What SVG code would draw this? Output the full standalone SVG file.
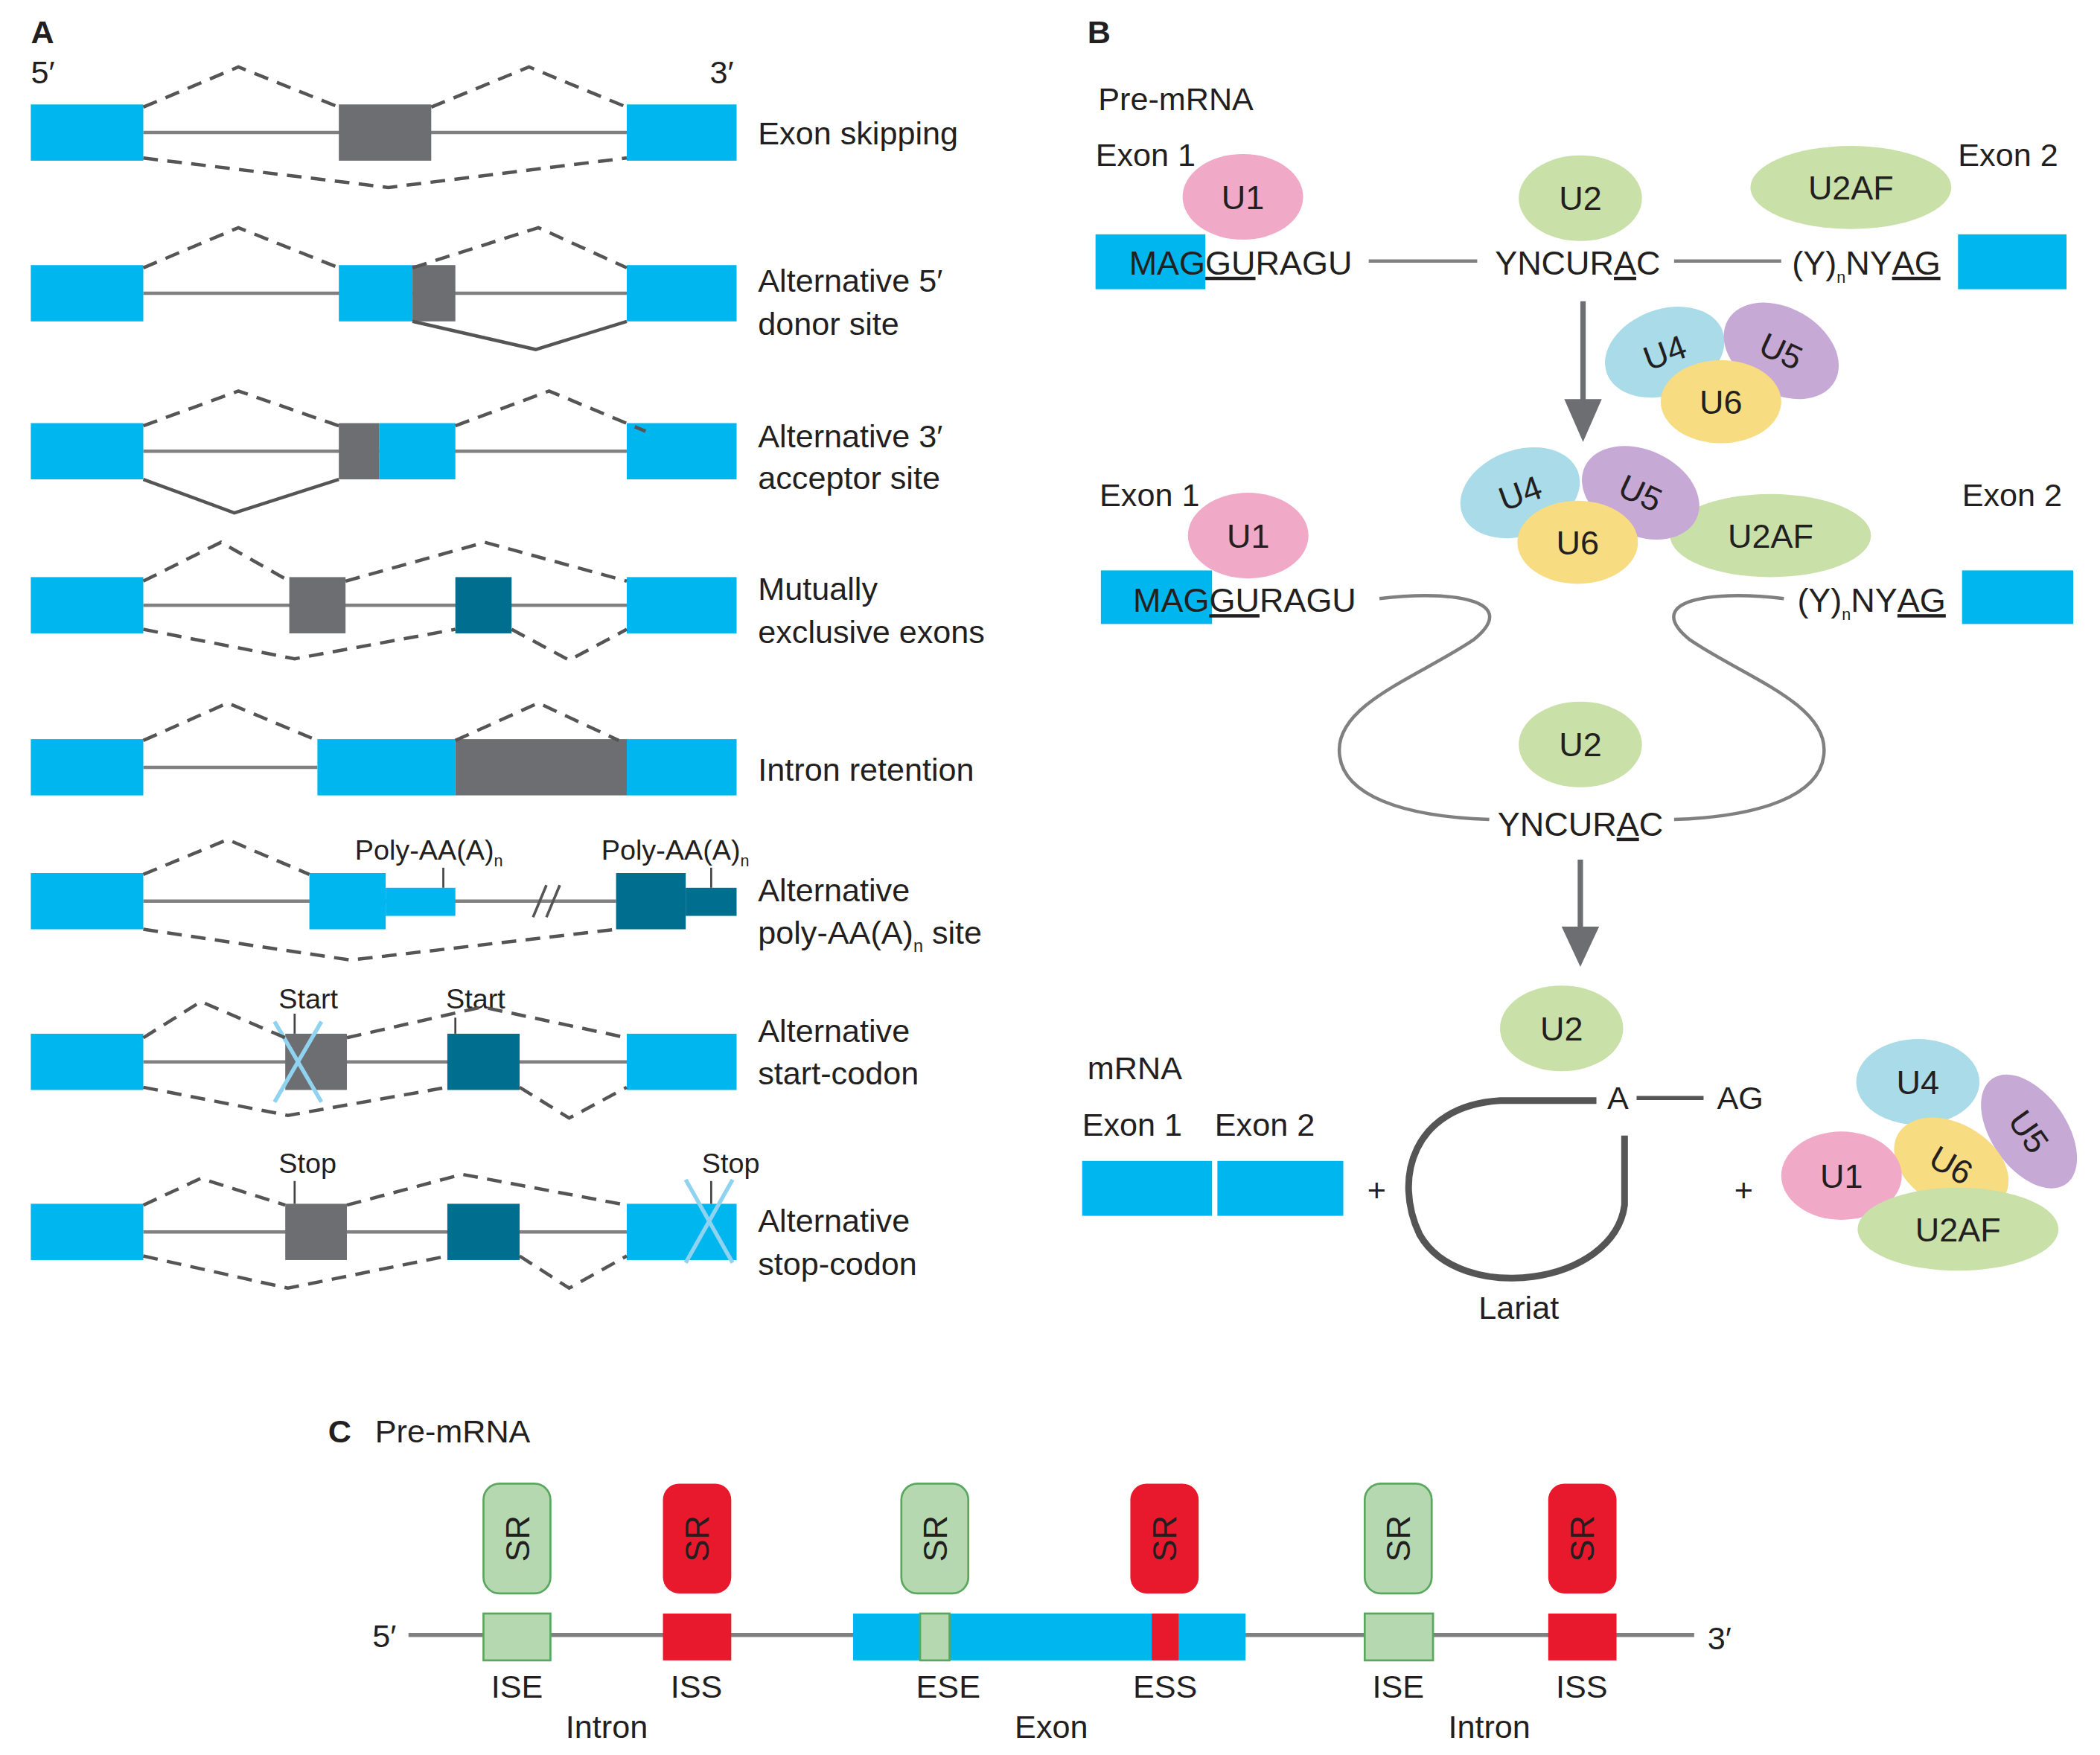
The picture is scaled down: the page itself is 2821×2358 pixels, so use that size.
<svg xmlns="http://www.w3.org/2000/svg" width="2821" height="2358" viewBox="0 0 2821 2358">
<style>
text{font-family:"Liberation Sans",Arial,sans-serif;fill:#231f20}
.t{font-size:24px}.s{font-size:21px}.m{font-size:25px}
.b{font-weight:bold;font-size:24px}
.cy{fill:#00b6ef}.gr{fill:#6d6e71}.tl{fill:#006f8f}
.ln{stroke:#808080;stroke-width:2.5;fill:none}
.ds{stroke:#555;stroke-width:2.5;fill:none;stroke-dasharray:11 7}
.sl{stroke:#555;stroke-width:2.5;fill:none}
.x{stroke:#8fd3f0;stroke-width:3}
.tk{stroke:#444;stroke-width:1.5}
.u1{fill:#f1a9c8}.u2{fill:#c9e1a9}.u4{fill:#a9dbe8}.u5{fill:#c7a9d6}.u6{fill:#f7dc82}
.srg{fill:#b5d8b0;stroke:#5aa860;stroke-width:1.5}.srr{fill:#e8192c}
.c{text-anchor:middle}
</style>
<rect width="2821" height="2358" fill="#fff"/>
<g transform="scale(1.7991)">
<g id="panelA">
<text x="23" y="32" class="b">A</text>
<text x="23" y="62" class="t">5′</text><text x="530" y="62" class="t">3′</text>
<g id="a1">
<line x1="107" y1="99" x2="468" y2="99" class="ln"/>
<rect x="23" y="78" width="84" height="42" class="cy"/><rect x="468" y="78" width="82" height="42" class="cy"/>
<rect x="253" y="78" width="69" height="42" class="gr"/>
<polyline points="107,80 178,50 253,80" class="ds"/><polyline points="322,80 395,50 468,80" class="ds"/>
<polyline points="107,118 290,140 468,118" class="ds"/>
<text x="566" y="108" class="t">Exon skipping</text></g>
<g id="a2">
<line x1="107" y1="219" x2="468" y2="219" class="ln"/>
<rect x="23" y="198" width="84" height="42" class="cy"/><rect x="468" y="198" width="82" height="42" class="cy"/>
<rect x="253" y="198" width="55" height="42" class="cy"/><rect x="308" y="198" width="32" height="42" class="gr"/>
<polyline points="107,200 178,170 253,200" class="ds"/><polyline points="308,200 402,170 468,200" class="ds"/>
<polyline points="308,240 400,261 468,240" class="sl"/>
<text x="566" y="218" class="t">Alternative 5′</text><text x="566" y="250" class="t">donor site</text></g>
<g id="a3">
<line x1="107" y1="337" x2="468" y2="337" class="ln"/>
<rect x="23" y="316" width="84" height="42" class="cy"/><rect x="468" y="316" width="82" height="42" class="cy"/>
<rect x="253" y="316" width="30" height="42" class="gr"/><rect x="283" y="316" width="57" height="42" class="cy"/>
<polyline points="107,318 178,292 253,318" class="ds"/><polyline points="340,318 410,292 482,322" class="ds"/>
<polyline points="107,358 175,383 253,358" class="sl"/>
<text x="566" y="334" class="t">Alternative 3′</text><text x="566" y="365" class="t">acceptor site</text></g>
<g id="a4">
<line x1="107" y1="452" x2="468" y2="452" class="ln"/>
<rect x="23" y="431" width="84" height="42" class="cy"/><rect x="468" y="431" width="82" height="42" class="cy"/>
<rect x="216" y="431" width="42" height="42" class="gr"/><rect x="340" y="431" width="42" height="42" class="tl"/>
<polyline points="107,434 165,405 216,434" class="ds"/><polyline points="258,434 362,405 468,434" class="ds"/>
<polyline points="107,470 220,492 340,470" class="ds"/><polyline points="382,470 425,493 468,470" class="ds"/>
<text x="566" y="448" class="t">Mutually</text><text x="566" y="480" class="t">exclusive exons</text></g>
<g id="a5">
<line x1="107" y1="573" x2="237" y2="573" class="ln"/>
<rect x="23" y="552" width="84" height="42" class="cy"/>
<rect x="237" y="552" width="103" height="42" class="cy"/><rect x="340" y="552" width="128" height="42" class="gr"/><rect x="468" y="552" width="82" height="42" class="cy"/>
<polyline points="107,553 170,525 237,553" class="ds"/><polyline points="340,553 402,525 462,553" class="ds"/>
<text x="566" y="583" class="t">Intron retention</text></g>
<g id="a6">
<line x1="107" y1="673" x2="460" y2="673" class="ln"/>
<line x1="398" y1="685" x2="408" y2="661" stroke="#555" stroke-width="2"/><line x1="408" y1="685" x2="418" y2="661" stroke="#555" stroke-width="2"/>
<rect x="23" y="652" width="84" height="42" class="cy"/>
<rect x="231" y="652" width="57" height="42" class="cy"/><rect x="288" y="663" width="52" height="21" class="cy"/>
<rect x="460" y="652" width="52" height="42" class="tl"/><rect x="512" y="663" width="38" height="21" class="tl"/>
<line x1="331" y1="648" x2="331" y2="663" class="tk"/><line x1="531" y1="648" x2="531" y2="663" class="tk"/>
<text x="265" y="642" class="s">Poly-AA(A)<tspan dy="5" font-size="12">n</tspan></text>
<text x="449" y="642" class="s">Poly-AA(A)<tspan dy="5" font-size="12">n</tspan></text>
<polyline points="107,653 170,627 231,653" class="ds"/><polyline points="107,694 262,717 460,694" class="ds"/>
<text x="566" y="673" class="t">Alternative</text><text x="566" y="705" class="t">poly-AA(A)<tspan dy="6" font-size="13">n</tspan><tspan dy="-6"> site</tspan></text></g>
<g id="a7">
<line x1="107" y1="793" x2="468" y2="793" class="ln"/>
<rect x="23" y="772" width="84" height="42" class="cy"/><rect x="468" y="772" width="82" height="42" class="cy"/>
<rect x="213" y="772" width="46" height="42" class="gr"/><rect x="334" y="772" width="54" height="42" class="tl"/>
<line x1="205" y1="763" x2="240" y2="823" class="x"/><line x1="240" y1="763" x2="205" y2="823" class="x"/>
<line x1="220" y1="757" x2="220" y2="772" class="tk"/><line x1="340" y1="760" x2="340" y2="772" class="tk"/>
<text x="208" y="753" class="s">Start</text><text x="333" y="753" class="s">Start</text>
<polyline points="107,775 150,748 213,775" class="ds"/><polyline points="259,775 360,752 468,775" class="ds"/>
<polyline points="107,812 215,833 334,812" class="ds"/><polyline points="388,812 425,835 468,812" class="ds"/>
<text x="566" y="778" class="t">Alternative</text><text x="566" y="810" class="t">start-codon</text></g>
<g id="a8">
<line x1="107" y1="920" x2="468" y2="920" class="ln"/>
<rect x="23" y="899" width="84" height="42" class="cy"/><rect x="468" y="899" width="82" height="42" class="cy"/>
<rect x="213" y="899" width="46" height="42" class="gr"/><rect x="334" y="899" width="54" height="42" class="tl"/>
<line x1="512" y1="881" x2="547" y2="943" class="x"/><line x1="547" y1="881" x2="512" y2="943" class="x"/>
<line x1="220" y1="882" x2="220" y2="899" class="tk"/><line x1="531" y1="882" x2="531" y2="899" class="tk"/>
<text x="208" y="876" class="s">Stop</text><text x="524" y="876" class="s">Stop</text>
<polyline points="107,900 150,880 213,900" class="ds"/><polyline points="259,900 345,877 468,900" class="ds"/>
<polyline points="107,938 215,962 334,938" class="ds"/><polyline points="388,938 425,962 468,938" class="ds"/>
<text x="566" y="920" class="t">Alternative</text><text x="566" y="952" class="t">stop-codon</text></g>
</g>
<g id="panelB">
<text x="812" y="32" class="b">B</text>
<text x="820" y="82" class="t">Pre-mRNA</text>
<text x="818" y="124" class="t">Exon 1</text><text x="1462" y="124" class="t">Exon 2</text>
<g id="connectors">
<line x1="1022" y1="195" x2="1103" y2="195" class="ln"/><line x1="1250" y1="195" x2="1330" y2="195" class="ln"/>
<line x1="1182" y1="225" x2="1182" y2="302" stroke="#6d6e71" stroke-width="4"/>
<polygon points="1168,298 1196,298 1182,330" fill="#6d6e71"/>
<line x1="1180" y1="642" x2="1180" y2="695" stroke="#6d6e71" stroke-width="4"/>
<polygon points="1166,692 1194,692 1180,722" fill="#6d6e71"/>
<path d="M1030,447 C1090,440 1135,450 1100,478 C1060,505 1000,525 1000,560 C1000,595 1050,610 1112,612" class="ln"/>
<path d="M1332,447 C1272,440 1227,450 1262,478 C1302,505 1362,525 1362,560 C1362,595 1312,610 1250,612" class="ln"/>
<path d="M1192,822 L1120,822 C1055,826 1040,880 1060,922 C1090,975 1205,960 1213,900 L1213,848" stroke="#555" stroke-width="5" fill="none"/>
<line x1="1222" y1="820" x2="1272" y2="820" stroke="#555" stroke-width="3"/>
</g>
<g id="b1">
<ellipse cx="928" cy="147" rx="45" ry="32" class="u1"/><text x="928" y="156" class="m c">U1</text>
<ellipse cx="1180" cy="148" rx="46" ry="32" class="u2"/><text x="1180" y="157" class="m c">U2</text>
<ellipse cx="1382" cy="140" rx="75" ry="31" class="u2"/><text x="1382" y="149" class="m c">U2AF</text>
<rect x="818" y="175" width="82" height="41" class="cy"/>
<text x="843" y="205" class="m">MAG<tspan text-decoration="underline">GU</tspan>RAGU</text>
<text x="1178" y="205" class="m c">YNCUR<tspan text-decoration="underline">A</tspan>C</text>
<text x="1338" y="205" class="m">(Y)<tspan dy="6" font-size="12">n</tspan><tspan dy="-6">NY</tspan><tspan text-decoration="underline">AG</tspan></text>
<rect x="1462" y="175" width="81" height="41" class="cy"/>
</g>
<g id="b2">
<ellipse cx="1243" cy="263" rx="46" ry="32" class="u4" transform="rotate(-20 1243 263)"/>
<ellipse cx="1330" cy="262" rx="46" ry="32" class="u5" transform="rotate(30 1330 262)"/>
<ellipse cx="1285" cy="300" rx="45" ry="31" class="u6"/>
<text x="1243" y="272" class="m c" transform="rotate(-20 1243 263)">U4</text>
<text x="1330" y="271" class="m c" transform="rotate(25 1330 262)">U5</text>
<text x="1285" y="309" class="m c">U6</text>
</g>
<g id="b3">
<text x="821" y="378" class="t">Exon 1</text><text x="1465" y="378" class="t">Exon 2</text>
<ellipse cx="932" cy="400" rx="45" ry="32" class="u1"/><text x="932" y="409" class="m c">U1</text>
<ellipse cx="1322" cy="400" rx="75" ry="31" class="u2"/><text x="1322" y="409" class="m c">U2AF</text>
<ellipse cx="1135" cy="368" rx="46" ry="32" class="u4" transform="rotate(-20 1135 368)"/>
<ellipse cx="1225" cy="368" rx="46" ry="32" class="u5" transform="rotate(25 1225 368)"/>
<ellipse cx="1178" cy="405" rx="45" ry="31" class="u6"/>
<text x="1135" y="377" class="m c" transform="rotate(-20 1135 368)">U4</text>
<text x="1225" y="377" class="m c" transform="rotate(25 1225 368)">U5</text>
<text x="1178" y="414" class="m c">U6</text>
<rect x="822" y="426" width="83" height="40" class="cy"/>
<text x="846" y="457" class="m">MAG<tspan text-decoration="underline">GU</tspan>RAGU</text>
<text x="1342" y="457" class="m">(Y)<tspan dy="6" font-size="12">n</tspan><tspan dy="-6">NY</tspan><tspan text-decoration="underline">AG</tspan></text>
<rect x="1465" y="426" width="83" height="40" class="cy"/>
<ellipse cx="1180" cy="556" rx="46" ry="32" class="u2"/><text x="1180" y="565" class="m c">U2</text>
<text x="1180" y="624" class="m c">YNCUR<tspan text-decoration="underline">A</tspan>C</text>
</g>
<g id="b4">
<ellipse cx="1166" cy="768" rx="46" ry="32" class="u2"/><text x="1166" y="777" class="m c">U2</text>
<text x="812" y="806" class="t">mRNA</text>
<text x="808" y="848" class="t">Exon 1</text><text x="907" y="848" class="t">Exon 2</text>
<rect x="808" y="867" width="97" height="41" class="cy"/><rect x="909" y="867" width="94" height="41" class="cy"/>
<text x="1028" y="897" class="t c">+</text><text x="1302" y="897" class="t c">+</text>
<text x="1208" y="828" class="t c">A</text><text x="1282" y="828" class="t">AG</text>
<text x="1134" y="985" class="t c">Lariat</text>
<ellipse cx="1432" cy="808" rx="46" ry="32" class="u4"/>
<ellipse cx="1515" cy="845" rx="48" ry="28" class="u5" transform="rotate(55 1515 845)"/>
<ellipse cx="1457" cy="870" rx="46" ry="31" class="u6" transform="rotate(30 1457 870)"/>
<ellipse cx="1375" cy="878" rx="45" ry="33" class="u1"/>
<ellipse cx="1462" cy="918" rx="75" ry="31" class="u2"/>
<text x="1432" y="817" class="m c">U4</text>
<text x="1515" y="854" class="m c" transform="rotate(55 1515 845)">U5</text>
<text x="1457" y="879" class="m c" transform="rotate(30 1457 870)">U6</text>
<text x="1375" y="887" class="m c">U1</text>
<text x="1462" y="927" class="m c">U2AF</text>
</g>
</g>
<g id="panelC">
<text x="245" y="1077" class="b">C</text><text x="280" y="1077" class="t">Pre-mRNA</text>
<line x1="305" y1="1221" x2="1265" y2="1221" stroke="#808080" stroke-width="3"/>
<text x="278" y="1230" class="t">5′</text><text x="1275" y="1232" class="t">3′</text>
<g id="sr">
<rect x="361" y="1108" width="50" height="82" rx="12" class="srg"/>
<rect x="495" y="1108" width="51" height="82" rx="12" class="srr"/>
<rect x="673" y="1108" width="50" height="82" rx="12" class="srg"/>
<rect x="844" y="1108" width="51" height="82" rx="12" class="srr"/>
<rect x="1019" y="1108" width="50" height="82" rx="12" class="srg"/>
<rect x="1156" y="1108" width="51" height="82" rx="12" class="srr"/>
<text class="m c" transform="translate(395,1149) rotate(-90)">SR</text>
<text class="m c" transform="translate(529,1149) rotate(-90)">SR</text>
<text class="m c" transform="translate(707,1149) rotate(-90)">SR</text>
<text class="m c" transform="translate(878,1149) rotate(-90)">SR</text>
<text class="m c" transform="translate(1053,1149) rotate(-90)">SR</text>
<text class="m c" transform="translate(1190,1149) rotate(-90)">SR</text>
</g>
<rect x="361" y="1205" width="50" height="35" class="srg"/>
<rect x="495" y="1205" width="51" height="35" class="srr"/>
<rect x="637" y="1205" width="293" height="35" class="cy"/>
<rect x="687" y="1205" width="22" height="35" class="srg"/>
<rect x="860" y="1205" width="20" height="35" class="srr"/>
<rect x="1019" y="1205" width="51" height="35" class="srg"/>
<rect x="1156" y="1205" width="51" height="35" class="srr"/>
<text x="386" y="1268" class="t c">ISE</text><text x="520" y="1268" class="t c">ISS</text>
<text x="708" y="1268" class="t c">ESE</text><text x="870" y="1268" class="t c">ESS</text>
<text x="1044" y="1268" class="t c">ISE</text><text x="1181" y="1268" class="t c">ISS</text>
<text x="453" y="1298" class="t c">Intron</text><text x="785" y="1298" class="t c">Exon</text><text x="1112" y="1298" class="t c">Intron</text>
</g>
</g>
</svg>
